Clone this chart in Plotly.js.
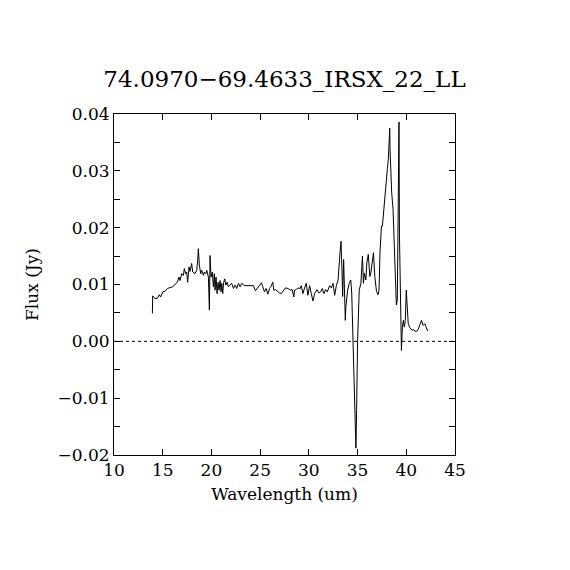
<!DOCTYPE html>
<html>
<head>
<meta charset="utf-8">
<script src="https://cdn.plot.ly/plotly-3.0.1.min.js"></script>
<style>
html, body { margin: 0; padding: 0; background: #fff; }
#chart { width: 570px; height: 570px; }
</style>
</head>
<body>
<div id="chart"></div>
<script>
const chartTitle = "74.0970\u221269.4633_IRSX_22_LL";
const xLabel = "Wavelength (um)";
const yLabel = "Flux (Jy)";

const wavelength = [
  13.94, 13.97, 14.21, 14.45, 14.65, 14.79, 15.00, 15.24, 15.48, 15.75,
  16.02, 16.26, 16.50, 16.67, 16.78, 16.95, 17.12, 17.22, 17.36, 17.46,
  17.56, 17.70, 17.80, 17.97, 18.08,
  18.32, 18.49, 18.59, 18.66, 18.76, 18.90, 19.00, 19.18, 19.28, 19.42,
  19.52, 19.69, 19.79, 19.86, 19.96, 20.10, 20.20, 20.30, 20.37, 20.47,
  20.58, 20.68, 20.78, 20.89, 20.99, 21.06, 21.16, 21.26, 21.37, 21.47,
  21.61, 21.74, 21.91, 22.08, 22.26, 22.43, 22.60, 22.77, 22.94, 23.11,
  23.38, 23.73, 24.07, 24.31, 24.52, 24.76, 25.00, 25.13, 25.27, 25.44,
  25.61, 25.79, 25.96, 26.13, 26.30, 26.40, 26.58, 26.82, 26.99, 27.16,
  27.40, 27.60, 27.85, 28.09, 28.29, 28.46, 28.53, 28.70, 28.87, 29.12,
  29.22, 29.39, 29.56, 29.73, 29.90, 30.08, 30.25, 30.42, 30.59, 30.83,
  31.04, 31.21, 31.38, 31.55, 31.72, 31.89, 32.13, 32.31, 32.48, 32.65,
  32.82, 33.00, 33.20, 33.30, 33.40, 33.47, 33.57, 33.74, 33.80, 33.98,
  34.15, 34.30, 34.40, 34.56, 34.66, 34.76, 34.83, 34.90, 35.00, 35.17,
  35.34, 35.44, 35.50, 35.60, 35.70, 35.85, 35.95, 36.10, 36.26, 36.36,
  36.53, 36.63, 36.77, 36.94, 37.10, 37.20, 37.30, 37.45, 37.55, 37.70,
  37.90, 38.06, 38.16, 38.23, 38.30, 38.33, 38.40, 38.50, 38.64, 38.78,
  38.90, 38.98, 39.08, 39.18, 39.25, 39.30, 39.42, 39.50, 39.60, 39.70,
  39.80, 39.90, 40.00, 40.10, 40.20, 40.34, 40.54, 40.78, 41.00, 41.20,
  41.40, 41.56, 41.73, 41.90, 42.04, 42.20
];

const flux = [
  0.0049, 0.0080, 0.0075, 0.0076, 0.0082, 0.0078, 0.0087, 0.0088, 0.0093, 0.0094,
  0.0096, 0.0100, 0.0104, 0.0113, 0.0107, 0.0119, 0.0116, 0.0128, 0.0119, 0.0122,
  0.0104, 0.0131, 0.0123, 0.0137, 0.0122,
  0.0119, 0.0125, 0.0143, 0.0163, 0.0134, 0.0119, 0.0125, 0.0116, 0.0122, 0.0119,
  0.0125, 0.0113, 0.0055, 0.0151, 0.0113, 0.0122, 0.0096, 0.0119, 0.0090, 0.0113,
  0.0084, 0.0104, 0.0090, 0.0107, 0.0087, 0.0102, 0.0084, 0.0104, 0.0110, 0.0099,
  0.0104, 0.0096, 0.0099, 0.0102, 0.0093, 0.0099, 0.0093, 0.0102, 0.0096, 0.0102,
  0.0098, 0.0098, 0.0099, 0.0098, 0.0089, 0.0094, 0.0100, 0.0103, 0.0096, 0.0087,
  0.0093, 0.0083, 0.0093, 0.0097, 0.0104, 0.0090, 0.0091, 0.0087, 0.0085, 0.0084,
  0.0089, 0.0094, 0.0093, 0.0090, 0.0091, 0.0078, 0.0090, 0.0091, 0.0094, 0.0093,
  0.0098, 0.0084, 0.0094, 0.0102, 0.0081, 0.0098, 0.0084, 0.0071, 0.0084, 0.0091,
  0.0085, 0.0087, 0.0093, 0.0084, 0.0091, 0.0087, 0.0098, 0.0094, 0.0102, 0.0081,
  0.0098, 0.0108, 0.0156, 0.0176, 0.0126, 0.0079, 0.0144, 0.0037, 0.0061, 0.0090,
  0.0102, 0.0108, 0.0085, -0.0022, -0.0114, -0.0164, -0.0188, -0.0122, 0.0000, 0.0090,
  0.0102, 0.0132, 0.0150, 0.0102, 0.0120, 0.0108, 0.0138, 0.0153, 0.0114, 0.0120,
  0.0144, 0.0156, 0.0114, 0.0088, 0.0082, 0.0090, 0.0156, 0.0203, 0.0203, 0.0238,
  0.0268, 0.0304, 0.0321, 0.0357, 0.0375, 0.0339, 0.0298, 0.0262, 0.0233, 0.0167,
  0.0090, 0.0064, 0.0073, 0.0310, 0.0386, 0.0185, 0.0061, -0.0016, 0.0025, 0.0037,
  0.0025, 0.0037, 0.0090, 0.0055, 0.0031, 0.0025, 0.0020, 0.0020, 0.0017, 0.0020,
  0.0028, 0.0037, 0.0028, 0.0031, 0.0025, 0.0018
];

const xRange = [10, 45];
const yRange = [-0.02, 0.04];

const font = "DejaVu Serif, Liberation Serif, serif";

const trace = {
  x: wavelength,
  y: flux,
  type: "scatter",
  mode: "lines",
  line: { color: "#000", width: 1 },
  hoverinfo: "skip"
};

const layout = {
  width: 570,
  height: 570,
  margin: { l: 114, r: 115, t: 114, b: 115 },
  paper_bgcolor: "#fff",
  plot_bgcolor: "#fff",
  showlegend: false,
  font: { family: font, size: 17, color: "#000" },
  title: {
    text: chartTitle,
    font: { family: font, size: 23, color: "#000" },
    x: 0.5, xref: "paper", xanchor: "center",
    y: 1 - 79 / 570, yref: "container", yanchor: "middle"
  },
  xaxis: {
    range: xRange,
    tick0: 10, dtick: 5,
    ticks: "inside", ticklen: 6, tickwidth: 1, tickcolor: "#000",
    showline: true, linecolor: "#000", linewidth: 1, mirror: "ticks",
    showgrid: false, zeroline: false,
    tickfont: { family: font, size: 17, color: "#000" },
    title: { text: xLabel, font: { family: font, size: 17, color: "#000" }, standoff: 8 }
  },
  yaxis: {
    range: yRange,
    tick0: 0, dtick: 0.01, tickformat: ".2f",
    ticks: "inside", ticklen: 6, tickwidth: 1, tickcolor: "#000",
    minor: { dtick: 0.005, ticks: "inside", ticklen: 6, tickcolor: "#000", tickwidth: 1, showgrid: false },
    showline: true, linecolor: "#000", linewidth: 1, mirror: "ticks",
    showgrid: false, zeroline: false,
    tickfont: { family: font, size: 17, color: "#000" },
    title: { text: yLabel, font: { family: font, size: 17, color: "#000" }, standoff: 14 }
  },
  shapes: [{
    type: "line", xref: "paper", x0: 0, x1: 1, yref: "y", y0: 0, y1: 0,
    line: { color: "#000", width: 1, dash: "dot" }
  }]
};

Plotly.newPlot("chart", [trace], layout, { staticPlot: true, displayModeBar: false });
</script>
</body>
</html>
